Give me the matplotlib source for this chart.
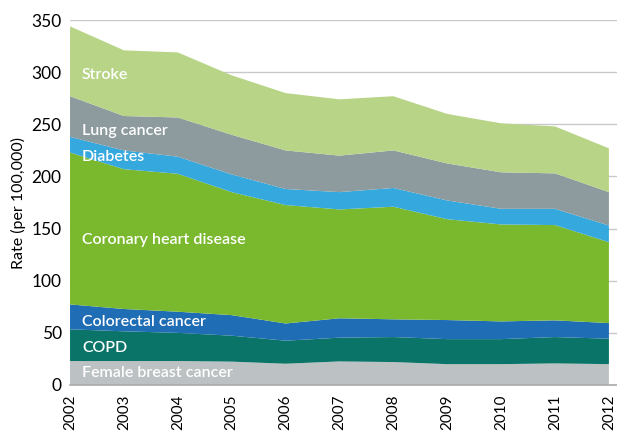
import matplotlib.pyplot as plt
import numpy as np

plt.rcParams["font.family"] = ["Lato", "DejaVu Sans"]

years = [2002, 2003, 2004, 2005, 2006, 2007, 2008, 2009, 2010, 2011, 2012]

# rates per 100,000, stacked from the bottom
breast = [23, 23, 23, 22.4, 20.4, 22.6, 22, 20, 20, 20.7, 20]
copd = [30.4, 28.5, 27, 24.9, 22.1, 22.8, 24, 24, 24, 25.3, 24.4]
colorectal = [23.9, 21.4, 20.3, 19.7, 16.5, 18.6, 17, 18.3, 17, 16, 15]
chd = [145.7, 134.1, 132.3, 118, 113.6, 104.4, 108, 96.7, 93, 91.4, 77.6]
diabetes = [15, 18, 16.4, 17, 15.4, 16.6, 18, 18, 15, 15.6, 16]
lung = [39, 33, 37.6, 38, 37, 35, 36, 35.5, 35, 34, 32]
stroke = [67, 63, 62.4, 57, 55, 54, 52, 47.5, 47, 45, 42]

names = ["Female breast cancer", "COPD", "Colorectal cancer",
         "Coronary heart disease", "Diabetes", "Lung cancer", "Stroke"]
colors = ["#bcc1c3", "#0b7468", "#1f6db5", "#7ab92e", "#35a8de", "#8d9b9e", "#b8d487"]
label_y = [11.5, 35.5, 60, 139, 218.6, 243.5, 297]

fig = plt.figure(figsize=(6.17, 4.37), dpi=100)
ax = fig.add_axes([0.1135, 0.119, 0.8865, 0.835])

series = [breast, copd, colorectal, chd, diabetes, lung, stroke]
ax.stackplot(years, *series, colors=colors, linewidth=0, zorder=2)

for n, ly in zip(names, label_y):
    ax.text(2002.22, ly, n, color="white", fontsize=11.5, fontweight="semibold",
            va="center", ha="left", zorder=3)

ax.set_xlim(2002, 2012.15)
ax.set_ylim(0, 350)
ax.set_yticks(range(0, 351, 50))
ax.set_xticks(years)
ax.set_xticklabels([str(y) for y in years], rotation=90, fontsize=11)
ax.tick_params(axis="y", labelsize=12.5, length=0, pad=6)
ax.tick_params(axis="x", length=0, pad=7)
ax.yaxis.grid(True, color="#c8c8c8", linewidth=1, zorder=0)
ax.set_axisbelow(True)
for s in ["top", "right", "left"]:
    ax.spines[s].set_visible(False)
ax.spines["bottom"].set_color("#aaaaaa")
ax.spines["bottom"].set_linewidth(1.2)
ax.set_ylabel("Rate (per 100,000)", fontsize=11.5, labelpad=4)

fig.savefig("out.png", dpi=100)
